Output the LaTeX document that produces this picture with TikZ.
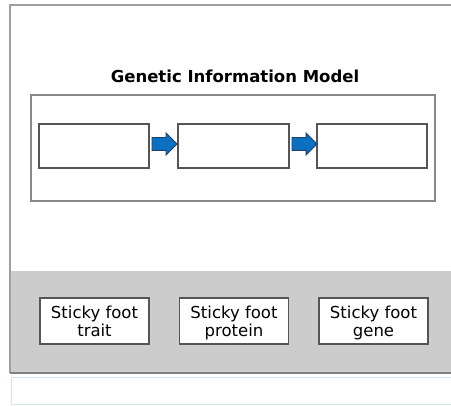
\documentclass[tikz,border=0pt]{standalone}
\usepackage{fontspec}
\setmainfont{DejaVu Sans}
\usetikzlibrary{shapes.arrows,calc}
\definecolor{framegray}{HTML}{A0A0A0}
\definecolor{panelgray}{HTML}{CCCCCC}
\definecolor{panelline}{HTML}{808080}
\definecolor{lightblue}{HTML}{CDE8F2}
\definecolor{boxline}{HTML}{555555}
\definecolor{modelline}{HTML}{888888}
\definecolor{arrowblue}{HTML}{0A70C0}
\definecolor{arrowedge}{HTML}{1F3F66}
\tikzset{
  emptybox/.style={draw=boxline, fill=white, line width=1.2pt, minimum height=44pt, inner sep=0pt},
  cardbox/.style={draw=boxline, fill=white, line width=1.3pt, minimum width=109pt, minimum height=46pt, inner sep=0pt},
  cardtext/.style={align=center, inner sep=0pt, font=\fontsize{16.5}{18}\selectfont},
  titletext/.style={font=\fontsize{16.5}{18}\selectfont\bfseries, inner sep=0pt},
  blockarrow/.style={single arrow, draw=arrowedge, fill=arrowblue, line width=0.8pt,
    minimum height=25pt, inner xsep=0pt, inner ysep=6pt, single arrow head extend=4.5pt, anchor=tail},
  modelbox/.style={draw=modelline, line width=1.4pt, minimum width=404pt, minimum height=106pt, inner sep=0pt}
}
\begin{document}
\begin{tikzpicture}[x=1pt,y=-1pt]
\useasboundingbox (0,0) rectangle (451,406);
\clip (0,0) rectangle (451,406);
% panel and frame
\fill[panelgray] (10,271) rectangle (460,373);
\draw[framegray, line width=2pt] (460,5) -| (10,373);
\draw[panelline, line width=1.4pt] (10,373) -- (460,373);
\draw[lightblue, line width=1pt] (11,377.5) rectangle (460,404.5);
% title
\node[titletext, anchor=base] (title) at (235,83) {Genetic Information Model};
% model box
\node[modelbox] (model) at (233,148) {};
\node[emptybox, minimum width=110pt] (m1) at (94,146) {};
\node[emptybox, minimum width=111pt] (m2) at (233.5,146) {};
\node[emptybox, minimum width=110pt] (m3) at (372,146) {};
\node[blockarrow] (a1) at ($(m1.east)+(2,-2)$) {};
\node[blockarrow] (a2) at ($(m2.east)+(2,-2)$) {};
% cards
\node[cardbox] (b1) at (94.5,321) {};
\node[cardbox] (b2) at (234,321) {};
\node[cardbox] (b3) at (373.5,321) {};
\node[cardtext] (t1) at ($(b1.center)+(0,2.5)$) {\strut Sticky foot\\\strut trait};
\node[cardtext] (t2) at ($(b2.center)+(0,2.5)$) {\strut Sticky foot\\\strut protein};
\node[cardtext] (t3) at ($(b3.center)+(0,2.5)$) {\strut Sticky foot\\\strut gene};
\end{tikzpicture}
\end{document}
